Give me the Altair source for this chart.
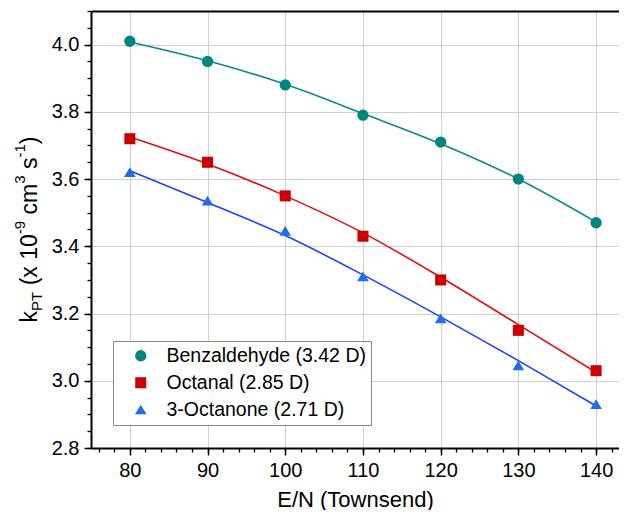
import altair as alt
import pandas as pd

# ---------------- data ----------------
en = [80, 90, 100, 110, 120, 130, 140]
compounds = ["Benzaldehyde (3.42 D)", "Octanal (2.85 D)", "3-Octanone (2.71 D)"]
benz = [4.01, 3.95, 3.88, 3.79, 3.71, 3.60, 3.47]
octanal = [3.72, 3.65, 3.55, 3.43, 3.30, 3.15, 3.03]
octanone = [3.62, 3.535, 3.445, 3.31, 3.185, 3.045, 2.93]
benz_fit = [4.008, 3.952, 3.882, 3.795, 3.705, 3.600, 3.472]
octanal_fit = [3.725, 3.645, 3.550, 3.440, 3.308, 3.167, 3.025]
octanone_fit = [3.625, 3.530, 3.432, 3.315, 3.190, 3.060, 2.925]

x_major = [80, 90, 100, 110, 120, 130, 140]
x_minor = [76 + 2 * i for i in range(34)]
y_major = [2.8, 3.0, 3.2, 3.4, 3.6, 3.8, 4.0]
y_minor = [round(2.8 + 0.05 * i, 2) for i in range(27)]

marker_colors = ["#008580", "#CC0000", "#1E6FE3"]
line_colors = ["#0A8A85", "#DD1010", "#2040FF"]
shapes = ["circle", "square", "M0,-0.95L1.08,0.85L-1.08,0.85Z"]
marker_sizes = [128, 116, 165]

FONT = "Liberation Sans"
W, H = 528, 437

pts_rows, fit_rows = [], []
for name, vals, fits, lc in zip(compounds, [benz, octanal, octanone],
                                [benz_fit, octanal_fit, octanone_fit], line_colors):
    for x, v, f in zip(en, vals, fits):
        pts_rows.append({"en": x, "k": v, "compound": name})
        fit_rows.append({"en": x, "k": f, "compound": name, "lc": lc})
pts_df = pd.DataFrame(pts_rows)
fit_df = pd.DataFrame(fit_rows)

x_scale = alt.Scale(domain=[75, 142.95], nice=False, zero=False)
y_scale = alt.Scale(domain=[2.8, 4.1], nice=False, zero=False)

common_axis = dict(labelFont=FONT, titleFont=FONT, labelColor="black", titleColor="black",
                   tickColor="black", domainColor="black")

lines = alt.Chart(fit_df).mark_line(interpolate="monotone", strokeWidth=1.6).encode(
    x=alt.X("en:Q", scale=x_scale, axis=alt.Axis(
        orient="bottom", values=x_major, grid=True, gridColor="#cfcfcf", gridWidth=1,
        tickSize=7, tickWidth=1.5, domainWidth=2, labelFontSize=20, labelPadding=5,
        title="E/N (Townsend)", titleFontSize=22, titleFontWeight="normal", titlePadding=9,
        **common_axis)),
    y=alt.Y("k:Q", scale=y_scale, axis=alt.Axis(
        orient="left", values=y_major, format=".1f", grid=True, gridColor="#cfcfcf", gridWidth=1,
        tickSize=7, tickWidth=1.5, domainWidth=2, labelFontSize=20, labelPadding=5,
        title=None, **common_axis)),
    color=alt.Color("lc:N", scale=None),
    detail="compound:N",
)

leg = alt.Legend(title=None, orient="none", legendX=22, legendY=330,
                 strokeColor="#888888", fillColor="white", padding=5,
                 labelFont=FONT, labelFontSize=19.5, labelColor="black", labelLimit=0,
                 symbolStrokeWidth=0, rowPadding=6,
                 symbolOffset=13, labelOffset=16)

points = alt.Chart(pts_df).mark_point(filled=True, opacity=1).encode(
    x=alt.X("en:Q", scale=x_scale, axis=alt.Axis(
        orient="bottom", values=x_minor, labels=False, grid=False, tickSize=4, tickWidth=1.3,
        domain=False, title=None, tickColor="black")),
    y=alt.Y("k:Q", scale=y_scale, axis=alt.Axis(
        orient="left", values=y_minor, labels=False, grid=False, tickSize=4, tickWidth=1.3,
        domain=False, title=None, tickColor="black")),
    color=alt.Color("compound:N", scale=alt.Scale(domain=compounds, range=marker_colors), legend=leg),
    shape=alt.Shape("compound:N", scale=alt.Scale(domain=compounds, range=shapes), legend=leg),
    size=alt.Size("compound:N", scale=alt.Scale(domain=compounds, range=marker_sizes), legend=leg),
)

frame = alt.Chart(pts_df).mark_point(opacity=0).encode(
    x=alt.X("en:Q", scale=x_scale, axis=alt.Axis(
        orient="top", labels=False, ticks=False, grid=False, domainColor="black",
        domainWidth=2, title=None)),
    y=alt.Y("k:Q", scale=y_scale, axis=None),
)

# ---- y axis title with sub/superscripts ----
BIG, SMALL = 23, 15
adv = {'k': .5, 'P': .667, 'T': .611, ' ': .278, '(': .333, 'x': .5, '1': .556, '0': .556,
       '-': .333, '9': .556, 'c': .5, 'm': .833, '3': .556, 's': .5, ')': .333}
pieces = [("k", "big"), ("PT", "sub"), (" (x 10", "big"), ("-9", "sup"), (" cm", "big"),
          ("3", "sup"), (" s", "big"), ("-1", "sup"), (")", "big")]
base_x = {"big": -54, "sub": -49, "sup": -66}


def width(s, kind):
    return sum(adv[c] for c in s) * (BIG if kind == "big" else SMALL)


total = sum(width(s, k) for s, k in pieces)
start = H / 2 + total / 2
title_layers = []
off = 0.0
for s, kind in pieces:
    lead = len(s) - len(s.lstrip(" "))
    txt = s.lstrip(" ")
    o = off + width(s[:lead], kind) if lead else off
    title_layers.append(
        alt.Chart(pd.DataFrame({"a": [0]})).mark_text(
            angle=270, align="left", baseline="alphabetic", font=FONT,
            fontSize=BIG if kind == "big" else SMALL, color="black"
        ).encode(x=alt.value(base_x[kind]), y=alt.value(start - o), text=alt.value(txt))
    )
    off += width(s, kind)

chart = alt.layer(lines, points, frame, *title_layers).resolve_axis(
    x="independent", y="independent"
).properties(
    width=W, height=H,
    autosize=alt.AutoSizeParams(type="none"),
    padding={"left": 83, "top": 3, "right": 0, "bottom": 62},
).configure_view(stroke=None)

chart.save("out.html", embed_options={"renderer": "svg", "actions": False})
